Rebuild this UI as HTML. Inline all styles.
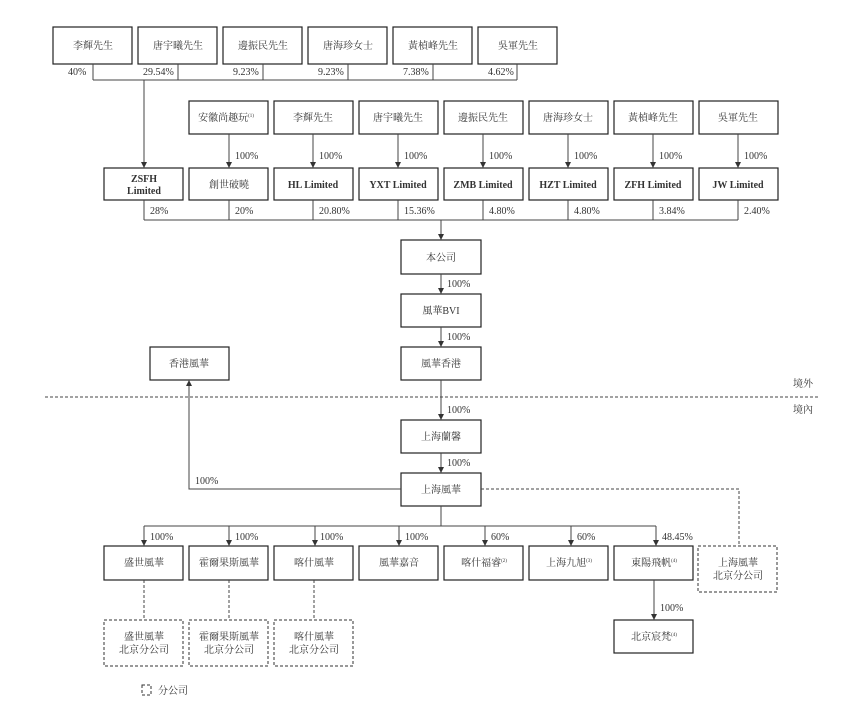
<!DOCTYPE html>
<html><head><meta charset="utf-8"><style>
body{margin:0;background:#fff}
svg{display:block}
text{font-family:"Liberation Serif","Noto Serif CJK SC",serif;font-size:10px;fill:#333}
.b{fill:#fff;stroke:#222;stroke-width:1.2}
.d{fill:#fff;stroke:#333;stroke-width:1;stroke-dasharray:3,2}
.l{stroke:#444;stroke-width:1;fill:none}
.dl{stroke:#444;stroke-width:1;fill:none;stroke-dasharray:3,2}
.c{text-anchor:middle}
</style></head><body>
<svg width="861" height="709" viewBox="0 0 861 709">
<defs><marker id="a" markerWidth="6" markerHeight="6" refX="5" refY="3" orient="auto" markerUnits="userSpaceOnUse"><path d="M0,0 L6,3 L0,6z" fill="#333"/></marker></defs>

<!-- top row -->
<rect class="b" x="53" y="27" width="79" height="37"/><text class="c" x="93" y="49">李輝先生</text>
<rect class="b" x="138" y="27" width="79" height="37"/><text class="c" x="178" y="49">唐宇曦先生</text>
<rect class="b" x="223" y="27" width="79" height="37"/><text class="c" x="263" y="49">邊振民先生</text>
<rect class="b" x="308" y="27" width="79" height="37"/><text class="c" x="348" y="49">唐海珍女士</text>
<rect class="b" x="393" y="27" width="79" height="37"/><text class="c" x="433" y="49">黃楨峰先生</text>
<rect class="b" x="478" y="27" width="79" height="37"/><text class="c" x="518" y="49">吳軍先生</text>
<path class="l" d="M93,64V80M178,64V80M263,64V80M348,64V80M433,64V80M517,64V80M93,80H517"/>
<text x="68" y="75">40%</text><text x="143" y="75">29.54%</text><text x="233" y="75">9.23%</text><text x="318" y="75">9.23%</text><text x="403" y="75">7.38%</text><text x="488" y="75">4.62%</text>
<path class="l" d="M144,80V167" marker-end="url(#a)"/>

<!-- second row -->
<rect class="b" x="189" y="101" width="79" height="33"/><text class="c" x="226" y="121">安徽尚趣玩<tspan font-size="5" dy="-4">(1)</tspan></text>
<rect class="b" x="274" y="101" width="79" height="33"/><text class="c" x="313" y="121">李輝先生</text>
<rect class="b" x="359" y="101" width="79" height="33"/><text class="c" x="398" y="121">唐宇曦先生</text>
<rect class="b" x="444" y="101" width="79" height="33"/><text class="c" x="483" y="121">邊振民先生</text>
<rect class="b" x="529" y="101" width="79" height="33"/><text class="c" x="568" y="121">唐海珍女士</text>
<rect class="b" x="614" y="101" width="79" height="33"/><text class="c" x="653" y="121">黃楨峰先生</text>
<rect class="b" x="699" y="101" width="79" height="33"/><text class="c" x="738" y="121">吳軍先生</text>
<path class="l" d="M229,134V167M313,134V167M398,134V167M483,134V167M568,134V167M653,134V167M738,134V167" />
<g marker-end="url(#a)"><path class="l" d="M229,160V167"/><path class="l" d="M313,160V167"/><path class="l" d="M398,160V167"/><path class="l" d="M483,160V167"/><path class="l" d="M568,160V167"/><path class="l" d="M653,160V167"/><path class="l" d="M738,160V167"/></g>
<text x="235" y="159">100%</text><text x="319" y="159">100%</text><text x="404" y="159">100%</text><text x="489" y="159">100%</text><text x="574" y="159">100%</text><text x="659" y="159">100%</text><text x="744" y="159">100%</text>

<!-- third row -->
<rect class="b" x="104" y="168" width="79" height="32"/><text class="c" x="144" y="182" font-weight="bold">ZSFH</text><text class="c" x="144" y="194" font-weight="bold">Limited</text>
<rect class="b" x="189" y="168" width="79" height="32"/><text class="c" x="229" y="188">創世破曉</text>
<rect class="b" x="274" y="168" width="79" height="32"/><text class="c" x="313" y="188" font-weight="bold">HL Limited</text>
<rect class="b" x="359" y="168" width="79" height="32"/><text class="c" x="398" y="188" font-weight="bold">YXT Limited</text>
<rect class="b" x="444" y="168" width="79" height="32"/><text class="c" x="483" y="188" font-weight="bold">ZMB Limited</text>
<rect class="b" x="529" y="168" width="79" height="32"/><text class="c" x="568" y="188" font-weight="bold">HZT Limited</text>
<rect class="b" x="614" y="168" width="79" height="32"/><text class="c" x="653" y="188" font-weight="bold">ZFH Limited</text>
<rect class="b" x="699" y="168" width="79" height="32"/><text class="c" x="738" y="188" font-weight="bold">JW Limited</text>
<path class="l" d="M144,200V220M229,200V220M313,200V220M398,200V220M483,200V220M568,200V220M653,200V220M738,200V220M144,220H738"/>
<text x="150" y="214">28%</text><text x="235" y="214">20%</text><text x="319" y="214">20.80%</text><text x="404" y="214">15.36%</text><text x="489" y="214">4.80%</text><text x="574" y="214">4.80%</text><text x="659" y="214">3.84%</text><text x="744" y="214">2.40%</text>
<path class="l" d="M441,220V239" marker-end="url(#a)"/>

<!-- center column -->
<rect class="b" x="401" y="240" width="80" height="34"/><text class="c" x="441" y="261">本公司</text>
<path class="l" d="M441,274V293" marker-end="url(#a)"/><text x="447" y="287">100%</text>
<rect class="b" x="401" y="294" width="80" height="33"/><text class="c" x="441" y="314">風華BVI</text>
<path class="l" d="M441,327V346" marker-end="url(#a)"/><text x="447" y="340">100%</text>
<rect class="b" x="401" y="347" width="80" height="33"/><text class="c" x="441" y="367">風華香港</text>
<rect class="b" x="150" y="347" width="79" height="33"/><text class="c" x="189" y="367">香港風華</text>
<path class="dl" d="M45,397H820"/>
<text x="793" y="387">境外</text><text x="793" y="413">境內</text>
<path class="l" d="M441,380V419" marker-end="url(#a)"/><text x="447" y="413">100%</text>
<rect class="b" x="401" y="420" width="80" height="33"/><text class="c" x="441" y="440">上海蘭馨</text>
<path class="l" d="M441,453V472" marker-end="url(#a)"/><text x="447" y="466">100%</text>
<rect class="b" x="401" y="473" width="80" height="33"/><text class="c" x="441" y="493">上海風華</text>
<path class="l" d="M401,489H189V381" marker-end="url(#a)"/><text x="195" y="484">100%</text>
<path class="dl" d="M481,489H739V546"/>
<rect class="d" x="698" y="546" width="79" height="46"/><text class="c" x="738" y="566">上海風華</text><text class="c" x="738" y="579">北京分公司</text>

<!-- bottom row -->
<path class="l" d="M441,506V526M144,526H656"/>
<g marker-end="url(#a)"><path class="l" d="M144,526V545"/><path class="l" d="M229,526V545"/><path class="l" d="M315,526V545"/><path class="l" d="M399,526V545"/><path class="l" d="M485,526V545"/><path class="l" d="M571,526V545"/><path class="l" d="M656,526V545"/></g>
<text x="150" y="540">100%</text><text x="235" y="540">100%</text><text x="320" y="540">100%</text><text x="405" y="540">100%</text><text x="491" y="540">60%</text><text x="577" y="540">60%</text><text x="662" y="540">48.45%</text>
<rect class="b" x="104" y="546" width="79" height="34"/><text class="c" x="144" y="566">盛世風華</text>
<rect class="b" x="189" y="546" width="79" height="34"/><text class="c" x="229" y="566">霍爾果斯風華</text>
<rect class="b" x="274" y="546" width="79" height="34"/><text class="c" x="314" y="566">喀什風華</text>
<rect class="b" x="359" y="546" width="79" height="34"/><text class="c" x="399" y="566">風華嘉音</text>
<rect class="b" x="444" y="546" width="79" height="34"/><text class="c" x="484" y="566">喀什福睿<tspan font-size="5" dy="-4">(2)</tspan></text>
<rect class="b" x="529" y="546" width="79" height="34"/><text class="c" x="569" y="566">上海九旭<tspan font-size="5" dy="-4">(3)</tspan></text>
<rect class="b" x="614" y="546" width="79" height="34"/><text class="c" x="654" y="566">東陽飛帆<tspan font-size="5" dy="-4">(4)</tspan></text>
<path class="dl" d="M144,580V620M229,580V620M314,580V620"/>
<rect class="d" x="104" y="620" width="79" height="46"/><text class="c" x="144" y="640">盛世風華</text><text class="c" x="144" y="653">北京分公司</text>
<rect class="d" x="189" y="620" width="79" height="46"/><text class="c" x="229" y="640">霍爾果斯風華</text><text class="c" x="229" y="653">北京分公司</text>
<rect class="d" x="274" y="620" width="79" height="46"/><text class="c" x="314" y="640">喀什風華</text><text class="c" x="314" y="653">北京分公司</text>
<path class="l" d="M654,580V619" marker-end="url(#a)"/><text x="660" y="611">100%</text>
<rect class="b" x="614" y="620" width="79" height="33"/><text class="c" x="654" y="640">北京宸梵<tspan font-size="5" dy="-4">(4)</tspan></text>

<rect class="d" x="142" y="685" width="9" height="10"/><text x="158" y="694">分公司</text>
</svg>
</body></html>
